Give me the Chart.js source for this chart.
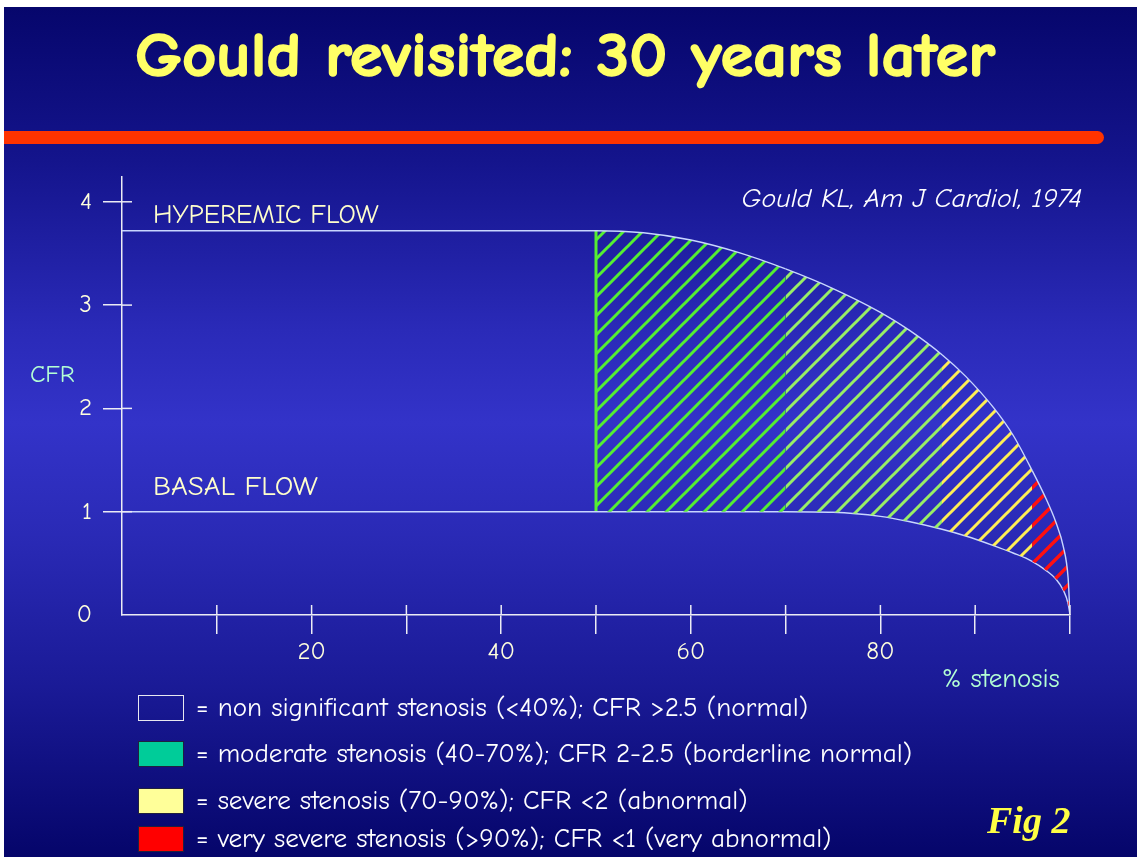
<!DOCTYPE html>
<html>
<head>
<meta charset="utf-8">
<script src="https://cdn.jsdelivr.net/npm/chart.js@4.4.1/dist/chart.umd.min.js"></script>
<style>
  html, body { margin: 0; padding: 0; }
  body { width: 1137px; height: 857px; overflow: hidden; position: relative; background: #fff;
         font-family: "Comic Sans MS", "Comic Neue", Lato, sans-serif; }
  #slide { position: absolute; left: 4px; top: 7px; right: 0; bottom: 0;
           background: linear-gradient(to bottom, #06066c 0%, #14148c 18%, #2a2ab8 38%, #3333c9 49%, #2a2ab6 62%, #1a1a96 80%, #05056a 100%); }
  #chart { position: absolute; left: 0; top: 0; }
  .txt { position: absolute; white-space: nowrap; line-height: 1; }
  #bar { position: absolute; left: 4px; top: 131px; width: 1100px; height: 13px; background: #ff3300; border-radius: 0 7px 7px 0; }
  .box { position: absolute; left: 138px; width: 46px; height: 26px; box-sizing: border-box; }
</style>
</head>
<body>
<div id="slide"></div>
<div id="bar"></div>
<canvas id="chart" width="1137" height="857"></canvas>
<div id="labels"></div>
<script>
// % stenosis (x) and coronary flow reserve
const stenosis      = [0, 50, 55, 60, 65, 70, 75, 80, 83, 86.5, 89, 92, 94, 96, 97.5, 98.5, 99.3, 99.8, 100];
const hyperemicFlow = [3.72, 3.72, 3.70, 3.63, 3.51, 3.35, 3.16, 2.93, 2.76, 2.52, 2.31, 2.00, 1.74, 1.40, 1.12, 0.90, 0.66, 0.36, 0];
const basalFlow     = [1, 1, 1, 1, 1, 1, 0.995, 0.955, 0.905, 0.83, 0.765, 0.67, 0.60, 0.52, 0.43, 0.35, 0.24, 0.11, 0];

// hatched zones: start of each zone in % stenosis
const zoneStart  = [50, 70, 86.5, 96];
const zoneColors = ['#55ee33', '#99ee66', '#ffee55', '#ff1010'];

const xLabels = [20, 40, 60, 80];

const legendLabels = [
  '= non significant stenosis (<40%);  CFR >2.5 (normal)',
  '= moderate stenosis (40-70%); CFR 2-2.5 (borderline normal)',
  '= severe stenosis (70-90%); CFR <2 (abnormal)',
  '= very severe stenosis (>90%); CFR <1 (very abnormal)'
];
const legendFill = ['transparent', '#00cc99', '#ffff99', '#ff0000'];

const font = '"Comic Sans MS", "Comic Neue", Lato, sans-serif';
const axisColor = '#ececf4';
const flowColor = '#c8d6ff';

function hatch(color, w) {
  const s = 19;
  const c = document.createElement('canvas');
  c.width = s; c.height = s;
  const g = c.getContext('2d');
  g.strokeStyle = color;
  g.lineWidth = w;
  g.beginPath();
  g.moveTo(-3, s + 3); g.lineTo(s + 3, -3);
  g.moveTo(-3, 3); g.lineTo(3, -3);
  g.moveTo(s - 3, s + 3); g.lineTo(s + 3, s - 3);
  g.stroke();
  return g.createPattern(c, 'repeat');
}
const patterns = zoneColors.map((c, i) => hatch(c, i === 3 ? 3.4 : 3));

function zoneFill(x) {
  let idx = -1;
  zoneStart.forEach((s, i) => { if (x >= s) idx = i; });
  return idx < 0 ? 'rgba(0,0,0,0)' : patterns[idx];
}

const i50 = stenosis.indexOf(zoneStart[0]);

// short tick stubs on the inner side of both axes
const innerTicks = {
  id: 'innerTicks',
  afterDraw(chart) {
    const { ctx, chartArea, scales: { x, y } } = chart;
    ctx.save();
    ctx.strokeStyle = axisColor;
    ctx.lineWidth = 1.5;
    x.ticks.forEach(t => {
      if (t.value <= 0) return;
      const px = x.getPixelForValue(t.value);
      ctx.beginPath(); ctx.moveTo(px, chartArea.bottom); ctx.lineTo(px, chartArea.bottom - 10); ctx.stroke();
    });
    y.ticks.forEach(t => {
      if (t.value <= 0) return;
      const py = y.getPixelForValue(t.value);
      ctx.beginPath(); ctx.moveTo(chartArea.left, py); ctx.lineTo(chartArea.left + 10, py); ctx.stroke();
    });
    ctx.restore();
  }
};

new Chart(document.getElementById('chart'), {
  type: 'line',
  data: {
    datasets: [
      {
        label: 'Hyperemic flow',
        data: stenosis.map((x, i) => ({ x, y: hyperemicFlow[i] })),
        borderColor: flowColor,
        borderWidth: 1.4,
        pointRadius: 0,
        cubicInterpolationMode: 'monotone',
        backgroundColor: 'rgba(0,0,0,0)',
        fill: '+1',
        segment: { backgroundColor: ctx => zoneFill(ctx.p0.parsed.x) }
      },
      {
        label: 'Basal flow',
        data: stenosis.map((x, i) => ({ x, y: basalFlow[i] })),
        borderColor: flowColor,
        borderWidth: 1.4,
        pointRadius: 0,
        cubicInterpolationMode: 'monotone',
        fill: false
      },
      {
        label: 'limit',
        data: [{ x: zoneStart[0], y: basalFlow[i50] }, { x: zoneStart[0], y: hyperemicFlow[i50] }],
        borderColor: zoneColors[0],
        borderWidth: 3,
        pointRadius: 0,
        fill: false
      }
    ]
  },
  options: {
    responsive: false,
    animation: false,
    layout: { padding: { left: 0, top: 177, right: 67, bottom: 192 } },
    plugins: { legend: { display: false }, tooltip: { enabled: false } },
    scales: {
      x: {
        type: 'linear',
        min: 0, max: 100,
        afterFit: s => { s.height = 50; },
        border: { color: axisColor, width: 1.5 },
        grid: {
          drawOnChartArea: false, tickLength: 19, lineWidth: 1.5,
          tickColor: c => c.tick && c.tick.value > 0 ? axisColor : 'rgba(0,0,0,0)'
        },
        ticks: {
          stepSize: 10, autoSkip: false, maxRotation: 0, padding: 3,
          color: '#ffffdd', font: { family: font, size: 25 },
          callback: v => xLabels.includes(v) ? String(v) : ''
        }
      },
      y: {
        min: 0, max: 4.24,
        afterFit: s => { s.width = 122; },
        afterBuildTicks: s => { s.ticks = s.ticks.filter(t => Number.isInteger(t.value)); },
        border: { color: axisColor, width: 1.5 },
        grid: {
          drawOnChartArea: false, tickLength: 19, lineWidth: 1.5,
          tickColor: c => c.tick && c.tick.value > 0 ? axisColor : 'rgba(0,0,0,0)'
        },
        ticks: {
          stepSize: 1, includeBounds: false, padding: 11,
          color: '#ffffdd', font: { family: font, size: 25 }
        }
      }
    }
  },
  plugins: [innerTicks]
});

// text on the slide
const labels = document.getElementById('labels');
function put(text, x, y, css, anchor, sx) {
  const d = document.createElement('div');
  d.className = 'txt';
  d.textContent = text;
  d.style.left = x + 'px';
  d.style.top = y + 'px';
  Object.assign(d.style, css || {});
  labels.appendChild(d);
  const ax = anchor === 'center' ? '-50%' : anchor === 'right' ? '-100%' : '0';
  d.style.transformOrigin = anchor === 'center' ? 'center' : anchor === 'right' ? 'right center' : 'left center';
  d.style.transform = 'translate(' + ax + ', -50%) scaleX(' + (sx || 1) + ')';
  return d;
}

const title = put('Gould revisited: 30 years later', 565, 56,
  { fontSize: '62px', fontWeight: '900', color: '#ffff66', webkitTextStroke: '1.6px #ffff66' }, 'center');
title.style.transform = 'translate(-50%, -50%) scaleX(' + (860 / title.offsetWidth) + ')';

put('Gould KL, Am J Cardiol, 1974', 1082, 199, { fontSize: '26px', fontStyle: 'italic', color: '#ffffff' }, 'right', 1.07);

put('HYPEREMIC FLOW', 153, 214, { fontSize: '27px', color: '#ffffcc' });
put('BASAL FLOW', 153, 486, { fontSize: '27px', color: '#ffffcc' }, 'left', 1.07);
put('CFR', 30, 373, { fontSize: '25px', color: '#b4ffd4' });
put('% stenosis', 942, 678, { fontSize: '27px', color: '#b4ffd4' });

const legendY = [708, 754, 801, 839];
legendLabels.forEach((t, i) => {
  const b = document.createElement('div');
  b.className = 'box';
  b.style.top = (legendY[i] - 13) + 'px';
  b.style.background = legendFill[i];
  b.style.border = i === 0 ? '1.5px solid #e8e8f0' : '1.5px solid #202040';
  labels.appendChild(b);
  put(t, 196, legendY[i], { fontSize: '26px', color: '#ffffff' }, 'left', 1.045);
});

put('Fig 2', 987, 820, { fontSize: '38px', fontWeight: '700', fontStyle: 'italic', color: '#ffff44',
  fontFamily: '"Times New Roman", "Liberation Serif", serif' });
</script>
</body>
</html>
